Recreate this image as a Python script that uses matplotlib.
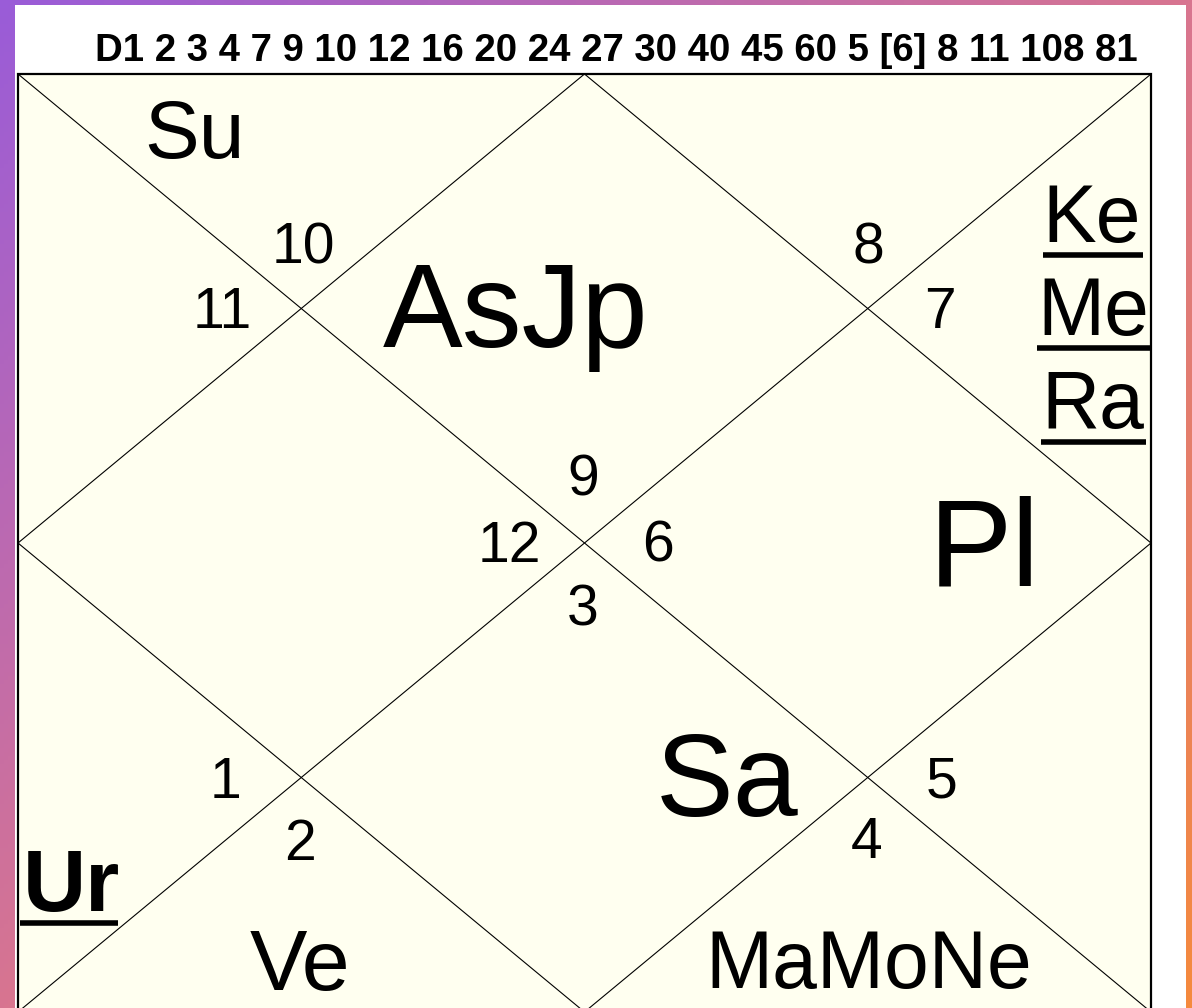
import numpy as np
import matplotlib
matplotlib.use("Agg")
import matplotlib.pyplot as plt
from matplotlib.patches import Rectangle, Polygon
from matplotlib.colors import LinearSegmentedColormap

# ---- data ----
header_text = "D1 2 3 4 7 9 10 12 16 20 24 27 30 40 45 60 5 [6] 8 11 108 81"
house_numbers = ["10", "11", "8", "7", "9", "12", "6", "3", "1", "2", "5", "4"]
house_num_pos = [(303, 263), (222, 328), (868, 263), (940, 328), (583, 495),
                 (509, 562), (658, 562), (583, 625), (225, 798), (300, 860),
                 (942, 797), (867, 858)]
planet_labels = ["Su", "AsJp", "Pl", "Sa", "Ve", "MaMoNe"]
planet_pos = [(194, 158, 59), (516, 347, 86), (984, 585, 90), (727, 816, 84),
              (300, 990, 62), (869, 988, 58)]
underlined_labels = ["Ke", "Me", "Ra"]
underlined_pos = [(1092, 242, 1043, 1143, 255), (1093, 335, 1037, 1152, 348),
                  (1093, 428, 1041, 1146, 442)]
bold_label = "Ur"

W, H = 1192, 1008
fig = plt.figure(figsize=(W / 100, H / 100), dpi=100)
ax = fig.add_axes([0, 0, 1, 1])
ax.set_xlim(0, W)
ax.set_ylim(H, 0)
ax.axis("off")

# gradient border
cmap = LinearSegmentedColormap.from_list(
    "g", [(0.0, "#9a5cd8"), (0.5, "#d87590"), (1.0, "#f58a3d")])
yy, xx = np.mgrid[0:H:4, 0:W:4]
grad = (xx / W * 0.5 + yy / H * 0.5)
ax.imshow(grad, cmap=cmap, extent=(0, W, H, 0), aspect="auto", zorder=0)

# white panel
ax.add_patch(Rectangle((15, 5), 1171, H, facecolor="white", edgecolor="none", zorder=1))

# chart box
L, T, R, B = 18, 74, 1151, 1012
ax.add_patch(Rectangle((L, T), R - L, B - T, facecolor="#fffff0",
                       edgecolor="black", linewidth=1.6, zorder=2))
cx, cy = (L + R) / 2, (T + B) / 2
ax.plot([L, R], [T, B], color="black", lw=0.8, zorder=3)
ax.plot([L, R], [B, T], color="black", lw=0.8, zorder=3)
ax.add_patch(Polygon([(cx, T), (R, cy), (cx, B), (L, cy)], closed=True,
                     fill=False, edgecolor="black", lw=0.8, zorder=3))

font = "Liberation Sans"

ax.text(616, 61, header_text, fontsize=27.6, fontweight="bold", family=font,
        ha="center", va="baseline", zorder=4)

for num, (x, y) in zip(house_numbers, house_num_pos):
    ax.text(x, y, num, fontsize=41, family=font, ha="center", va="baseline", zorder=4)

for lab, (x, y, s) in zip(planet_labels, planet_pos):
    ax.text(x, y, lab, fontsize=s, family=font, ha="center", va="baseline", zorder=4)

for lab, (x, y, x0, x1, uy) in zip(underlined_labels, underlined_pos):
    ax.text(x, y, lab, fontsize=58, family=font, ha="center", va="baseline", zorder=4)
    ax.plot([x0, x1], [uy, uy], color="black", lw=4, solid_capstyle="butt", zorder=4)

ax.text(71, 911, bold_label, fontsize=63, fontweight="bold", family=font,
        ha="center", va="baseline", zorder=4)
ax.plot([20, 118], [923, 923], color="black", lw=4, solid_capstyle="butt", zorder=4)

fig.savefig("out.png", dpi=100)
